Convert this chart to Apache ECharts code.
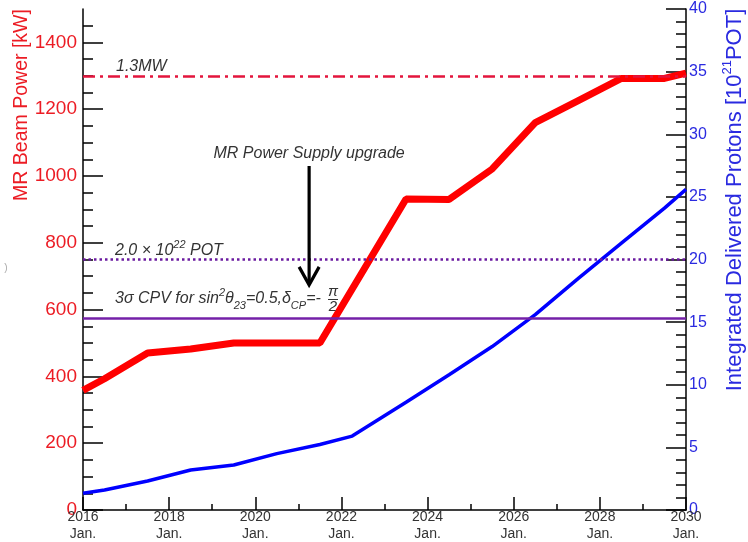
<!DOCTYPE html>
<html>
<head>
<meta charset="utf-8">
<script src="https://cdn.jsdelivr.net/npm/echarts@6/dist/echarts.min.js"></script>
<style>
  html, body { margin: 0; padding: 0; background: #ffffff; }
  #chart { width: 748px; height: 542px; }
</style>
</head>
<body>
<div id="chart"></div>
<script>
// Tick values for the three axes
const yearTicks = [2016, 2018, 2020, 2022, 2024, 2026, 2028, 2030];
const powerTicks = [0, 200, 400, 600, 800, 1000, 1200, 1400];
const powerMinorTicks = [50, 100, 150, 250, 300, 350, 450, 500, 550, 650, 700, 750, 850, 900, 950,
  1050, 1100, 1150, 1250, 1300, 1350, 1450];
const protonTicks = [0, 5, 10, 15, 20, 25, 30, 35, 40];

// MR beam power plan [kW]
const powerYears = [2016.0, 2016.5, 2017.5, 2018.5, 2019.5, 2021.5, 2023.5, 2024.5, 2025.5, 2026.5, 2027.5, 2028.5, 2029.5, 2030.0];
const powerKW    = [358, 393, 470, 482, 500, 500, 931, 930, 1021, 1160, 1226, 1292, 1292, 1308];

// Integrated delivered protons [10^21 POT]
const protonYears = [2016.0, 2016.5, 2017.5, 2018.5, 2019.5, 2020.5, 2021.5, 2022.25, 2023.5, 2024.5, 2025.5, 2026.5, 2027.5, 2028.5, 2029.5, 2030.0];
const protonPOT   = [1.33, 1.59, 2.31, 3.19, 3.59, 4.5, 5.23, 5.9, 8.6, 10.8, 13.05, 15.6, 18.5, 21.3, 24.1, 25.6];

// Reference levels (on the power axis) and the upgrade marker
const designPowerKW = 1300;     // 1.3 MW
const potGoalKW = 750;          // 2.0 x 10^22 POT (= 20 on the right axis)
const cpvLevelKW = 574;         // 3 sigma CPV reach
const upgradeYear = 2021.25;
const upgradeArrowKW = [1030, 674];

const FONT = '"Liberation Sans", Arial, Helvetica, sans-serif';
const RED_TEXT = '#ec1c24';
const BLUE_TEXT = '#2a2ae0';
const NOTE = '#333333';

const chart = echarts.init(document.getElementById('chart'), null, { renderer: 'canvas' });

const option = {
  animation: false,
  backgroundColor: '#ffffff',
  grid: { left: 83, right: 62, top: 9, bottom: 32, containLabel: false, outerBoundsMode: 'none' },
  xAxis: {
    type: 'value', min: 2016, max: 2030, interval: 2,
    axisLine: { show: true, onZero: false, lineStyle: { color: '#000', width: 1.5 } },
    axisTick: { show: true, inside: true, length: 13, lineStyle: { color: '#000', width: 1.5 } },
    minorTick: { show: true, splitNumber: 2, length: 6, lineStyle: { color: '#000', width: 1.5 } },
    splitLine: { show: false },
    axisLabel: {
      margin: -1, color: NOTE, fontFamily: FONT, fontSize: 14, lineHeight: 17,
      formatter: v => yearTicks.includes(v) ? v + '\nJan.' : ''
    }
  },
  yAxis: [
    {
      type: 'value', position: 'left', min: 0, max: 1500,
      axisLine: { show: true, onZero: false, lineStyle: { color: '#000', width: 1.5 } },
      axisTick: { show: true, inside: true, length: 20, customValues: powerTicks, lineStyle: { color: '#000', width: 1.5 } },
      axisLabel: { customValues: powerTicks, margin: 6, color: RED_TEXT, fontFamily: FONT, fontSize: 19,
        formatter: v => String(v) },
      splitLine: { show: false }
    },
    {
      type: 'value', position: 'right', min: 0, max: 40, interval: 5,
      axisLine: { show: true, onZero: false, lineStyle: { color: '#000', width: 1.5 } },
      axisTick: { show: true, inside: true, length: 20, lineStyle: { color: '#000', width: 1.5 } },
      minorTick: { show: true, splitNumber: 5, length: 10, lineStyle: { color: '#000', width: 1.5 } },
      axisLabel: { margin: 3, color: BLUE_TEXT, fontFamily: FONT, fontSize: 16,
        formatter: v => protonTicks.includes(v) ? String(v) : '' },
      splitLine: { show: false }
    },
    {
      // minor ticks of the power axis
      type: 'value', position: 'left', min: 0, max: 1500,
      axisLine: { show: false },
      axisTick: { show: true, inside: true, length: 10, customValues: powerMinorTicks, lineStyle: { color: '#000', width: 1.5 } },
      axisLabel: { show: false },
      splitLine: { show: false }
    }
  ],
  series: [
    {
      name: 'levels', type: 'line', xAxisIndex: 0, yAxisIndex: 0, data: [], z: 1,
      markLine: {
        silent: true, symbol: ['none', 'none'], label: { show: false }, animation: false,
        data: [
          { yAxis: designPowerKW, lineStyle: { color: '#e3153c', width: 2.5, type: [12, 5, 3, 5] } },
          { yAxis: potGoalKW, lineStyle: { color: '#6a1aa0', width: 2.5, type: [2.5, 3] } },
          { yAxis: cpvLevelKW, lineStyle: { color: '#7420a8', width: 2.5, type: 'solid' } }
        ]
      }
    },
    {
      name: 'Integrated Delivered Protons', type: 'line', xAxisIndex: 0, yAxisIndex: 1, z: 3,
      showSymbol: false, symbol: 'none',
      lineStyle: { color: '#0000ff', width: 3.5 },
      data: protonYears.map((y, i) => [y, protonPOT[i]])
    },
    {
      name: 'MR Beam Power', type: 'line', xAxisIndex: 0, yAxisIndex: 0, z: 4,
      showSymbol: false, symbol: 'none',
      lineStyle: { color: '#ff0000', width: 7 },
      data: powerYears.map((y, i) => [y, powerKW[i]])
    }
  ]
};
chart.setOption(option);

// Annotations, arrow and axis titles
const arrowStart = chart.convertToPixel({ xAxisIndex: 0, yAxisIndex: 0 }, [upgradeYear, upgradeArrowKW[0]]);
const arrowTip = chart.convertToPixel({ xAxisIndex: 0, yAxisIndex: 0 }, [upgradeYear, upgradeArrowKW[1]]);

const noteFont = { fontFamily: FONT, fontSize: 16, fontStyle: 'italic', fill: NOTE };
const rich = {
  a:   { fontFamily: FONT, fontSize: 16, fontStyle: 'italic', fill: NOTE, lineHeight: 24 },
  sup: { fontFamily: FONT, fontSize: 11, fontStyle: 'italic', fill: NOTE, lineHeight: 13, verticalAlign: 'top' },
  sub: { fontFamily: FONT, fontSize: 11, fontStyle: 'italic', fill: NOTE, lineHeight: 13, verticalAlign: 'bottom' }
};

chart.setOption({
  graphic: [
    { type: 'text', z: 10, x: 116, y: 67, style: Object.assign({ text: '1.3MW', verticalAlign: 'middle', align: 'left' }, noteFont) },
    { type: 'text', z: 10, x: arrowStart[0], y: 154, style: Object.assign({ text: 'MR Power Supply upgrade', verticalAlign: 'middle', align: 'center' }, noteFont) },
    { type: 'text', z: 10, x: 115, y: 251, style: { text: '{a|2.0 × 10}{sup|22}{a| POT}', rich: rich, verticalAlign: 'middle', align: 'left' } },
    { type: 'text', z: 10, x: 115, y: 299, style: {
        text: '{a|3σ CPV for sin}{sup|2}{a|θ}{sub|23}{a|=0.5,δ}{sub|CP}{a|=-}', rich: rich, verticalAlign: 'middle', align: 'left' } },
    { type: 'text', z: 10, x: 333, y: 292, style: Object.assign({ text: 'π', verticalAlign: 'middle', align: 'center' }, noteFont, { fontSize: 15 }) },
    { type: 'line', z: 10, shape: { x1: 328, y1: 299.5, x2: 338, y2: 299.5 }, style: { stroke: NOTE, lineWidth: 1 } },
    { type: 'text', z: 10, x: 333, y: 307, style: Object.assign({ text: '2', verticalAlign: 'middle', align: 'center' }, noteFont, { fontSize: 15 }) },
    { type: 'line', z: 10, shape: { x1: arrowStart[0], y1: arrowStart[1], x2: arrowTip[0], y2: arrowTip[1] - 1 }, style: { stroke: '#000', lineWidth: 3.2 } },
    { type: 'polyline', z: 10, shape: { points: [[arrowTip[0] - 10, arrowTip[1] - 18], [arrowTip[0], arrowTip[1]], [arrowTip[0] + 10, arrowTip[1] - 18]] },
      style: { stroke: '#000', lineWidth: 3.2, fill: null, lineJoin: 'miter' } },
    { type: 'text', z: 10, x: 22, y: 105, rotation: Math.PI / 2,
      style: { text: 'MR Beam Power [kW]', fontFamily: FONT, fontSize: 19.5, fill: RED_TEXT, align: 'center', verticalAlign: 'middle' } },
    { type: 'text', z: 10, x: 735, y: 200, rotation: Math.PI / 2,
      style: {
        text: '{t|Integrated Delivered Protons [10}{s|21}{t|POT]}', align: 'center', verticalAlign: 'middle',
        rich: {
          t: { fontFamily: FONT, fontSize: 22, fill: BLUE_TEXT, lineHeight: 28 },
          s: { fontFamily: FONT, fontSize: 13, fill: BLUE_TEXT, lineHeight: 16, verticalAlign: 'top' }
        }
      } },
    { type: 'text', z: 10, x: 6, y: 268, style: { text: ')', fontFamily: FONT, fontSize: 10, fill: '#aaaaaa', align: 'center', verticalAlign: 'middle' } }
  ]
});
</script>
</body>
</html>
